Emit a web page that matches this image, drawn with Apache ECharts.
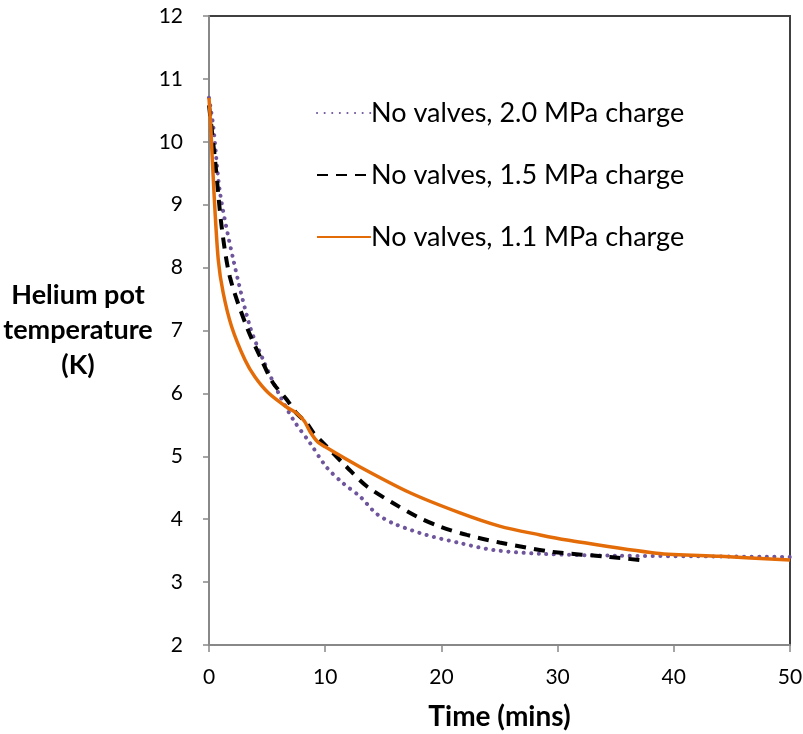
<!DOCTYPE html>
<html>
<head>
<meta charset="utf-8">
<script src="https://cdn.jsdelivr.net/npm/echarts@6/dist/echarts.min.js"></script>
<style>
html,body{margin:0;padding:0;background:#fff;}
#chart{width:803px;height:734px;}
</style>
</head>
<body>
<div id="chart"></div>
<script>
// Data
const seriesNames = ['No valves, 2.0 MPa charge', 'No valves, 1.5 MPa charge', 'No valves, 1.1 MPa charge'];

const t20 = [0, 0.37, 0.95, 2.1, 3.53, 4.67, 5.97, 7.26, 8.7, 10.1, 11.55, 13, 14.4, 15.9, 18.7, 21.6, 24.5, 28.5, 35, 42, 50];
const T20 = [10.70, 10.24, 9.19, 8.12, 7.06, 6.53, 6.01, 5.58, 5.21, 4.83, 4.57, 4.36, 4.09, 3.93, 3.75, 3.62, 3.51, 3.45, 3.42, 3.41, 3.40];

const t15 = [0, 0.52, 1.09, 1.8, 3.24, 4.53, 5.5, 6.7, 7.5, 8.4, 9.0, 9.84, 11.85, 13.6, 15.9, 17.9, 19.9, 22.2, 25, 29.6, 34.5, 37.5];
const T15 = [10.58, 9.71, 8.65, 7.85, 7.06, 6.53, 6.17, 5.90, 5.69, 5.53, 5.37, 5.21, 4.83, 4.52, 4.25, 4.04, 3.88, 3.75, 3.63, 3.48, 3.40, 3.34];

const t11 = [0, 0.15, 0.43, 0.8, 1.22, 1.95, 3.1, 3.96, 5.1, 6.7, 7.5, 8.2, 8.7, 9.3, 10, 13, 17.3, 21.6, 25, 28.5, 30.8, 38.5, 44, 50];
const T11 = [10.70, 10.24, 9.19, 8.12, 7.60, 7.06, 6.53, 6.26, 6.01, 5.78, 5.69, 5.56, 5.39, 5.24, 5.15, 4.83, 4.42, 4.10, 3.89, 3.75, 3.67, 3.46, 3.41, 3.35];

const xTicks = [0, 10, 20, 30, 40, 50];
const yTicks = [2, 3, 4, 5, 6, 7, 8, 9, 10, 11, 12];

function pairs(xs, ys) { return xs.map((x, i) => [x, ys[i]]); }

const FONT = 'Lato';
const chart = echarts.init(document.getElementById('chart'), null, {renderer: 'canvas'});
chart.setOption({
  animation: false,
  backgroundColor: '#ffffff',
  grid: {
    left: 209, right: 13, top: 16, bottom: 89,
    containLabel: false, outerBoundsMode: 'none',
    show: true, borderColor: '#404040', borderWidth: 2, backgroundColor: 'transparent'
  },
  legend: {
    orient: 'vertical',
    left: 311, top: 93,
    itemWidth: 54, itemHeight: 14,
    itemGap: 32,
    itemStyle: {opacity: 0},
    textStyle: {fontFamily: FONT, fontSize: 27, color: '#000', lineHeight: 30, padding: [0, 0, 0, -5]},
    data: seriesNames
  },
  xAxis: {
    type: 'value',
    min: xTicks[0], max: xTicks[xTicks.length - 1], interval: 10,
    axisLine: {lineStyle: {color: '#888888', width: 2}},
    axisTick: {show: true, length: 7, lineStyle: {color: '#888888', width: 1.5}},
    splitLine: {show: false},
    axisLabel: {fontFamily: FONT, fontSize: 21, color: '#000', margin: 22},
    name: 'Time (mins)',
    nameLocation: 'middle',
    nameGap: 58,
    nameTextStyle: {fontFamily: FONT, fontSize: 28, fontWeight: 'bold', color: '#000'}
  },
  yAxis: {
    type: 'value',
    min: yTicks[0], max: yTicks[yTicks.length - 1], interval: 1,
    axisLine: {show: true, lineStyle: {color: '#888888', width: 2}},
    axisTick: {show: true, length: 6, lineStyle: {color: '#888888', width: 1.5}},
    splitLine: {show: false},
    axisLabel: {fontFamily: FONT, fontSize: 21, color: '#000', margin: 26},
    name: 'Helium pot\ntemperature\n(K)',
    nameLocation: 'middle',
    nameRotate: 0,
    nameGap: 120,
    nameTextStyle: {fontFamily: FONT, fontSize: 27, fontWeight: 'bold', color: '#000',
      align: 'center', verticalAlign: 'middle', lineHeight: 35}
  },
  series: [
    {
      name: seriesNames[0], type: 'line', smooth: 0.3, symbol: 'none', showSymbol: false, symbolSize: 0,
      data: pairs(t20, T20),
      lineStyle: {color: '#6f569c', width: 4, type: [0.1, 7.5], cap: 'round'},
      itemStyle: {color: '#6f569c'}, z: 2
    },
    {
      name: seriesNames[1], type: 'line', smooth: 0.3, symbol: 'none', showSymbol: false, symbolSize: 0,
      data: pairs(t15, T15),
      lineStyle: {color: '#000000', width: 4, type: [11, 8]},
      itemStyle: {color: '#000000'}, z: 3
    },
    {
      name: seriesNames[2], type: 'line', smooth: 0.3, symbol: 'none', showSymbol: false, symbolSize: 0,
      data: pairs(t11, T11),
      lineStyle: {color: '#e36c09', width: 3.5, type: 'solid'},
      itemStyle: {color: '#e36c09'}, z: 4
    }
  ]
});
</script>
</body>
</html>
